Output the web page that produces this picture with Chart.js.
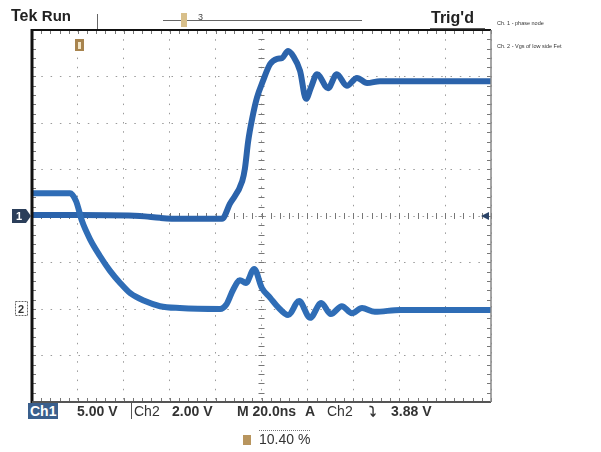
<!DOCTYPE html>
<html lang="en">
<head>
<meta charset="UTF-8">
<title>Tek scope capture</title>
<script src="https://cdn.jsdelivr.net/npm/chart.js"></script>
<style>
    body { margin: 0; background: #fff; }
    #wrap { position: relative; width: 601px; height: 452px; overflow: hidden; }
    #scope { position: absolute; left: 0; top: 0; }
    .t { position: absolute; white-space: nowrap; color: #222; font-family: "Liberation Sans", Arial, sans-serif; }
    .big { font-weight: bold; font-size: 16px; }
    .tiny { font-size: 5.5px; color: #333; }
    .stat { font-family: "Liberation Sans Narrow", "Liberation Sans", sans-serif; font-weight: bold; font-size: 14px; color: #333; top: 403px; }
</style>
</head>
<body>
<div id="wrap">
    <canvas id="scope" width="601" height="452"></canvas>
    <div class="t big" style="left:11px;top:7px;">Tek <span style="font-size:15px">Run</span></div>
    <div class="t big" style="left:431px;top:9px;">Trig'd</div>
    <div class="t tiny" style="left:497px;top:20px;">Ch. 1 - phase node</div>
    <div class="t tiny" style="left:497px;top:43px;">Ch. 2 - Vgs of low side Fet</div>

    <div class="t stat" style="left:28px;background:#3a5f8c;color:#fff;padding:0 2px;">Ch1</div>
    <div class="t stat" style="left:77px;">5.00 V</div>
    <div class="t stat" style="left:131px;font-weight:normal;border-left:1px solid #555;padding-left:2px;">Ch2</div>
    <div class="t stat" style="left:172px;">2.00 V</div>
    <div class="t stat" style="left:237px;">M 20.0ns</div>
    <div class="t stat" style="left:305px;">A</div>
    <div class="t stat" style="left:327px;font-weight:normal;">Ch2</div>
    <div class="t stat" style="left:369px;">&#x2935;</div>
    <div class="t stat" style="left:391px;">3.88 V</div>
    <div class="t" style="left:259px;top:430px;font-size:14px;color:#333;border-top:1px dotted #777;">10.40 %</div>
</div>
<script>
// time axis in divisions (20 ns/div), amplitude in divisions (ch1 gnd = 0, ch2 gnd = -2)
const ch1X = [0.02, 1.05, 2.35, 2.79, 3.22, 4.14, 4.31, 4.58, 4.64, 4.71, 4.80, 4.90, 5.03, 5.19, 5.34, 5.45, 5.58, 5.69, 5.84, 5.97, 6.08, 6.21, 6.45, 6.64, 6.86, 7.08, 7.30, 7.58, 8.45, 9.32, 9.98];
const ch1Y = [0.02, 0.02, 0.00, -0.04, -0.06, -0.06, 0.26, 0.75, 1.03, 1.61, 2.11, 2.54, 2.90, 3.27, 3.38, 3.40, 3.55, 3.44, 3.12, 2.52, 2.77, 3.05, 2.75, 3.05, 2.80, 2.97, 2.86, 2.90, 2.90, 2.90, 2.90];

const ch2X = [0.02, 0.83, 0.96, 1.09, 1.26, 1.48, 1.70, 1.92, 2.14, 2.46, 2.79, 3.22, 4.10, 4.23, 4.38, 4.53, 4.66, 4.84, 5.01, 5.19, 5.36, 5.58, 5.82, 6.06, 6.30, 6.51, 6.75, 6.97, 7.19, 7.47, 8.02, 8.89, 9.98];
const ch2Y = [0.49, 0.49, 0.32, -0.11, -0.49, -0.86, -1.18, -1.44, -1.66, -1.83, -1.94, -1.98, -2.00, -1.91, -1.59, -1.38, -1.44, -1.14, -1.55, -1.76, -1.96, -2.13, -1.83, -2.19, -1.87, -2.11, -1.94, -2.09, -1.98, -2.06, -2.02, -2.02, -2.02];

const xDivs = [0, 10];
const yDivs = [-4, 4];
const ch1Ground = 0;
const ch2Ground = -2;

function pts(xs, ys) {
    return xs.map((x, i) => ({ x: x, y: ys[i] }));
}

// graticule extras: center cross with minor ticks, frame, channel markers
const scopeDeco = {
    id: 'scopeDeco',
    beforeDatasetsDraw(chart) {
        const c = chart.ctx, xs = chart.scales.x, ys = chart.scales.y;
        const a = chart.chartArea;
        const cx = xs.getPixelForValue(5), cy = ys.getPixelForValue(0);
        c.save();
        c.strokeStyle = '#777';
        c.lineWidth = 1;
        c.beginPath();
        for (let v = 0; v <= 10.001; v += 0.2) {
            const px = Math.round(xs.getPixelForValue(v)) + 0.5;
            c.moveTo(px, cy - 3); c.lineTo(px, cy + 3);
            c.moveTo(px, a.top); c.lineTo(px, a.top + 4);
            c.moveTo(px, a.bottom); c.lineTo(px, a.bottom - 4);
        }
        for (let v = -4; v <= 4.001; v += 0.2) {
            const py = Math.round(ys.getPixelForValue(v)) + 0.5;
            c.moveTo(cx - 3, py); c.lineTo(cx + 3, py);
            c.moveTo(a.left, py); c.lineTo(a.left + 4, py);
            c.moveTo(a.right, py); c.lineTo(a.right - 4, py);
        }
        c.stroke();
        c.restore();
    },
    afterDraw(chart) {
        const c = chart.ctx, xs = chart.scales.x, ys = chart.scales.y;
        const a = chart.chartArea;
        c.save();
        // frame
        c.strokeStyle = '#111';
        c.lineWidth = 3;
        c.beginPath(); c.moveTo(a.left, a.top - 1); c.lineTo(a.left, a.bottom + 1); c.stroke();
        c.lineWidth = 2;
        c.beginPath(); c.moveTo(a.left, a.top); c.lineTo(a.right, a.top); c.stroke();
        c.strokeStyle = '#555';
        c.beginPath(); c.moveTo(a.left, a.bottom); c.lineTo(a.right, a.bottom); c.stroke();
        c.strokeStyle = '#888';
        c.lineWidth = 1.5;
        c.beginPath(); c.moveTo(a.right, a.top); c.lineTo(a.right, a.bottom); c.stroke();

        // top record bar
        c.strokeStyle = '#666';
        c.lineWidth = 1;
        c.beginPath(); c.moveTo(163, 20.5); c.lineTo(362, 20.5); c.stroke();
        c.beginPath(); c.moveTo(97.5, 14); c.lineTo(97.5, 29); c.stroke();
        c.strokeStyle = '#222';
        c.lineWidth = 1.5;
        c.beginPath(); c.moveTo(430, 29); c.lineTo(485, 29); c.stroke();
        c.fillStyle = '#d8bf8a';
        c.fillRect(181, 13, 6, 14);
        c.fillStyle = '#444';
        c.font = '9px "Liberation Sans"';
        c.fillText('3', 198, 20);

        // trigger position marker
        c.fillStyle = '#a8844e';
        c.fillRect(75, 39, 9, 12);
        c.fillStyle = '#f3e6c8';
        c.fillRect(78, 42, 3, 7);

        // channel ground markers
        const y1 = ys.getPixelForValue(ch1Ground), y2 = ys.getPixelForValue(ch2Ground);
        c.fillStyle = '#2b3e5a';
        c.beginPath();
        c.moveTo(12, y1 - 7); c.lineTo(26, y1 - 7); c.lineTo(31, y1); c.lineTo(26, y1 + 7); c.lineTo(12, y1 + 7);
        c.closePath(); c.fill();
        c.fillStyle = '#fff';
        c.font = 'bold 11px "Liberation Sans"';
        c.fillText('1', 16, y1 + 4);
        c.strokeStyle = '#666';
        c.lineWidth = 1;
        c.setLineDash([2, 1]);
        c.strokeRect(15.5, y2 - 7.5, 12, 14);
        c.setLineDash([]);
        c.fillStyle = '#333';
        c.fillText('2', 18, y2 + 4);

        // trigger level arrow
        const yt = ys.getPixelForValue(0);
        c.fillStyle = '#2b4468';
        c.beginPath();
        c.moveTo(a.right - 10, yt); c.lineTo(a.right - 2, yt - 4); c.lineTo(a.right - 2, yt + 4);
        c.closePath(); c.fill();

        // little tan icon near readout
        c.fillStyle = '#b8955e';
        c.fillRect(243, 435, 8, 10);
        c.restore();
    }
};

new Chart(document.getElementById('scope'), {
    type: 'line',
    data: {
        datasets: [
            {
                label: 'Ch. 2',
                data: pts(ch2X, ch2Y),
                borderColor: '#2f6db6',
                borderWidth: 6,
                pointRadius: 0,
                cubicInterpolationMode: 'monotone',
                borderJoinStyle: 'round',
                borderCapStyle: 'round'
            },
            {
                label: 'Ch. 1',
                data: pts(ch1X, ch1Y),
                borderColor: '#2b63ab',
                borderWidth: 6,
                pointRadius: 0,
                cubicInterpolationMode: 'monotone',
                borderJoinStyle: 'round',
                borderCapStyle: 'round'
            }
        ]
    },
    options: {
        responsive: false,
        animation: false,
        layout: { padding: { left: 32, top: 30, right: 110, bottom: 50 } },
        plugins: { legend: { display: false }, tooltip: { enabled: false } },
        scales: {
            x: {
                type: 'linear', min: xDivs[0], max: xDivs[1],
                ticks: { display: false, stepSize: 1 },
                grid: { color: '#9a9a9a', drawTicks: false },
                border: { display: false, dash: [1.5, 7.7] }
            },
            y: {
                type: 'linear', min: yDivs[0], max: yDivs[1],
                ticks: { display: false, stepSize: 1 },
                grid: { color: '#9a9a9a', drawTicks: false },
                border: { display: false, dash: [1.5, 7.8] }
            }
        }
    },
    plugins: [scopeDeco]
});
</script>
</body>
</html>
